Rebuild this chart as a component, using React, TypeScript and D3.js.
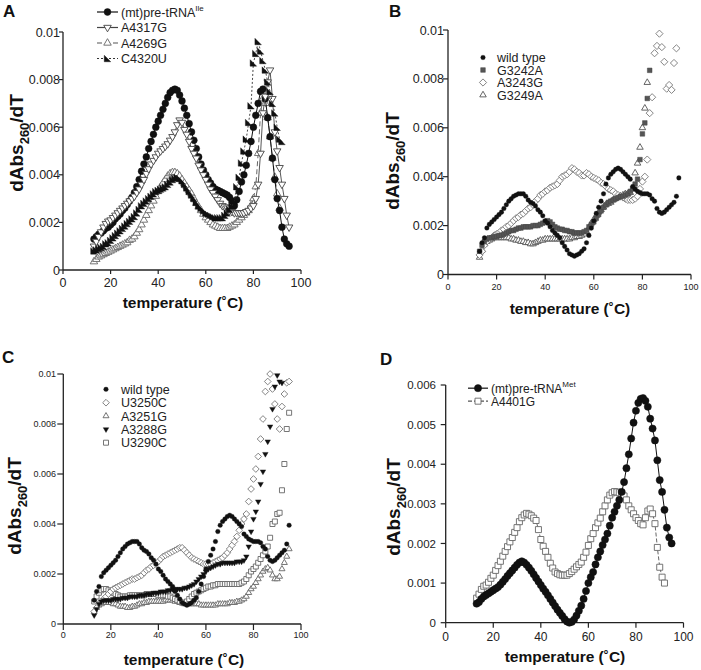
import React from 'react';
import * as d3 from 'd3';

const FONT = "'Liberation Sans', Arial, Helvetica, sans-serif";

// Temperatures (°C) of the measurement grid
const TEMPS = [13,14,15,16,17,18,19,20,21,22,23,24,25,26,27,28,29,30,31,32,33,34,35,36,37,38,39,40,41,42,43,44,45,46,47,48,49,50,51,52,53,54,55,56,57,58,59,60,61,62,63,64,65,66,67,68,69,70,71,72,73,74,75,76,77,78,79,80,81,82,83,84,85,86,87,88,89,90,91,92,93,94,95];

// Panels A-C: dAbs260/dT in units of 1e-4, starting at 13 °C
const A_WILD = [13,14,15,15.5,16.5,17.5,18,19,20,21.5, 22.5,23.5,25,26,27.5,29,30.5,32.5,35,38, 41.5,44.5,47.5,51,54,57,60,62.5,65,67.5, 70,72.5,74.5,75.5,76,75.5,73.5,71,68,65, 61.5,58,54.5,51,47.5,44.5,42,40,38,36.5, 35,34,33.5,33,32.5,32,31.5,30.5,29,27, 29.5,33,37,40,44,49,54,60,65,70, 75,76,72,64,56,47,38,30,25,18, 13,11,10];
const A_A4317G = [10,12,14,16,18,19.5,20.5,21,22,23, 24,25,26,27,28,29,30,31,32.5,34, 36,38,40.5,42.5,44.5,46,47.5,49,50,51, 52,53,54.5,56,58,61,63,62,59,57, 54,51,49,47,44,42,40,38,36,34, 32.5,31,29.5,28,27,26.5,26,25,24.5,24, 24,24,24,24,24.5,25,26,27,30,36, 49,66,73,79,84,72,58,50,43,36, 30,23,18];
const A_A4269G = [3.5,4.5,5.5,6,6.5,7,7.5,8,8.5,9, 9.5,10,10.5,11,11.5,12.5,13,14,15.5,17, 19,21,23,25,27,29,31,33,35,36.5, 38,39.5,40.5,41,41,40.5,39.5,38,36.5,35, 33.5,32,30,28,26.5,25,23.5,22,21,20, 19,18.5,18,17.5,17.5,17.5,17.5,18,18.5,19, 20,21,22,23,24,25,27,30,35,49, 66,72,70,64,56,47,39,32,26];
const A_C4320U = [8,8.5,9,9.5,10,11,11.5,12.5,13.5,14.5, 15.5,16.5,17.5,18.5,19.5,20.5,21.5,22.5,24,25.5, 27,28,29,30,31,32,33,33.5,34,34.5, 35,36,37,38,38.5,39,38.5,37.5,36,34.5, 33,31.5,30,28.5,27,26,25,24,23.5,23, 22.5,22,22,22,22,23,24,25.5,27,29, 35,39,45,50,55,62,69,87,91,96, 92,88,84,79,75,70,66,60,55,54];

const BC_WILD = [9.5,13,15,19,20.5,21.5,22.5,23.5,24.5,25.5, 27,28.5,30,31,32,32.5,33,33,33,32, 30.5,29.5,29,28,26.5,25.5,24,22,21,19.5, 18,17,16,15,13,11.5,10,8.5,8,7.5, 8,8.5,9.5,10.5,13,16,19,22,25,27.5, 30,33,37,39.5,41,42,43,43.5,43,42, 41,40,39,36,35,34,33.5,33,33,33, 32.5,31,30,27,25.5,25,25.5,26.5,27.5,28.5, 29.5,32,39.5];
const B_G3242A = [9.5,12,13.5,14.5,15,15,15.5,15.5,16,16, 16.5,17,17.5,18,18,18.5,19,19,19.5,19.5, 19.5,19.5,20,20,20,20.5,21,21.5,22,21.5, 20.5,19.5,19,18.5,18.5,18,18,17.5,17.5,17, 17,17,17,17.5,18,19.5,20.5,21.5,23,24.5, 26,27.5,28.5,29.5,30,30.5,31,31.5,32,32, 32.5,33,34,35,37,39,47,57.5,62,72, 83.5];
const B_A3243G = [8,9.5,12,13.5,14.5,15,16,16.5,17,18, 18.5,19.5,20,21,22,23,23.5,24.5,25,26, 27,27.5,28.5,30,31,32.5,33,34,34.5,35.5, 36,36.5,37,38.5,40,40.5,41,42,43.5,43, 42,41.5,40.5,40.5,41.5,41,40,39.5,39,38.5, 37.5,37,36,35,34.5,34,33,32.5,32,31.5, 31,30.5,30.5,30.5,31,32,35,38,40,47, 66,72.5,90.5,93.5,98.5,93,87,76,77.5,75.5, 86.5,92.5];
const B_G3249A = [7,10,12.5,13.5,14,14.5,15,15,15,15, 15,15,15,14.5,14.5,14,14,13.5,13.5,13, 13,12.5,12.5,13,13.5,14,14,14.5,14.5,14.5, 14.5,14.5,14.5,14.5,14.5,14.5,14.5,14.5,15,15, 15.5,15.5,16,16.5,17.5,19,21,22.5,24,25.5, 26.5,27.5,28.5,29,29.5,30.5,31,31.5,32,32.5, 33,33,33.5,35,41.5,45.5,52,60,68,78.5];

const C_U3250C = [5,6.5,8,9,10,11,12,13,14,14.5, 15,15.5,16,16.5,17,17.5,18,18,18.5,19, 19.5,20.5,21.5,22,23,23.5,24,25,26,27, 27.5,28,28.5,29,29.5,30,30.5,30.5,29.5,28.5, 27.5,26.5,26,25.5,25,24.5,24,24,24,24, 24.5,25,25.5,26,26.5,27.5,28.5,30,31.5,33, 35,37.5,40,42,44,49,54,58,62,67, 74,82,93,97,100,94,88,82,78,87, 92,96.5,97];
const C_A3251G = [5,6.5,7.5,8,8.5,8.5,8.5,8.5,8,8, 7.5,7,7,7,6.5,6.5,7,7,7.5,8, 8,8.5,8.5,9,9,9,9,9,9,9, 9.5,9.5,9.5,9.5,9,9,8.5,8.5,8,8, 8,8,8,8,8,7.5,7.5,7.5,7.5,7.5, 7.5,7.5,8,8,8,8,8,8.5,8.5,8.5, 9,9,9.5,10,11,12.5,14,15,16.5,18, 19.5,21,22,22.5,21.5,19.5,18,18,19,22, 24.5,27,30];
const C_A3288G = [3.5,6,8,9,9.5,9.5,9.5,9.5,10,10, 10,10,10.5,10.5,10.5,11,11,11,11,11.5, 11.5,11.5,12,12,12,12.5,12.5,12.5,13,13, 13,13.5,13.5,14,14,14,14,14,14.5,14.5, 15,15.5,16,17,18,19,20,21,22,22.5, 23,23.5,24,24,24.5,24.5,24.5,24.5,24.5,24.5, 25,25,25,25.5,27,31,37,42,45,49, 56,61,68,73,79,86,95,99.5,97,96.5];
const C_U3290C = [9,11,12.5,13.5,14,14,13.5,13,12.5,12, 11.5,11,11,11,11,11.5,11.5,11.5,11.5,11.5, 11.5,11.5,12,12,12,12,12,11.5,11.5,11.5, 11.5,11,11,10.5,10,9.5,9,8.5,8.5,9, 10,11,12,12.5,13,13.5,14,14.5,15,15, 15.5,15.5,16,16,16,16,16,16,16,16, 16,16,16.5,17,18,19.5,21,22,23,24.5, 26,27.5,29,31,34.5,40,41,44,44.5,53.5, 64,78,84.5];

// Panel D: dAbs260/dT in units of 1e-5, starting at 13 °C
const D_WILD = [48,52,60,66,70,74,78,82,86,90, 96,103,110,118,125,132,139,146,152,155, 152,146,139,131,122,113,104,95,86,78, 69,60,51,42,33,25,17,9,3,0, 2,8,18,30,43,60,80,100,115,128, 147,165,180,196,210,225,245,265,280,295, 310,330,355,390,425,465,505,535,555,565, 567,560,545,515,490,460,410,360,330,285, 240,215,200];
const D_A4401G = [62,72,84,92,95,102,112,120,132,144, 155,168,180,192,204,215,228,240,255,265, 272,276,274,270,264,258,235,210,193,180, 165,150,138,128,124,121,120,120,120,124, 129,135,141,147,153,165,178,195,212,225, 240,252,264,280,295,310,322,328,331,330, 328,327,320,310,295,285,275,265,258,250, 247,265,282,287,275,250,190,140,115,100];

const X_TICKS = [0, 20, 40, 60, 80, 100];
const Y_TICKS_01 = [0, 0.002, 0.004, 0.006, 0.008, 0.01];
const Y_LABELS_01 = ['0', '0.002', '0.004', '0.006', '0.008', '0.01'];
const Y_TICKS_D = [0, 0.001, 0.002, 0.003, 0.004, 0.005, 0.006];
const Y_LABELS_D = ['0', '0.001', '0.002', '0.003', '0.004', '0.005', '0.006'];

type MarkerType = 'circle' | 'triUp' | 'triDown' | 'square' | 'diamond' | 'flag';

interface Series {
  name: string;
  sup?: string;
  values: number[];
  marker: MarkerType;
  size: number;
  fill: string;
  stroke: string;
  sw: number;
  line?: { stroke: string; dash?: string; width: number };
}

function markerPath(type: MarkerType, s: number): string {
  const h = s * 0.866;
  switch (type) {
    case 'triUp':
      return `M0,${-h * 2 / 3}L${s / 2},${h / 3}L${-s / 2},${h / 3}Z`;
    case 'triDown':
      return `M0,${h * 2 / 3}L${s / 2},${-h / 3}L${-s / 2},${-h / 3}Z`;
    case 'square':
      return `M${-s / 2},${-s / 2}h${s}v${s}h${-s}Z`;
    case 'diamond': {
      const d = s * 0.62;
      return `M0,${-d}L${d},0L0,${d}L${-d},0Z`;
    }
    case 'flag':
      return `M${-s / 2},${-s / 2}L${-s / 2},${s / 2}L${s / 2},${s / 2}Z`;
    default:
      return '';
  }
}

function Marker({ s, x, y }: { s: Series; x: number; y: number }) {
  if (s.marker === 'circle') {
    return <circle cx={x} cy={y} r={s.size} fill={s.fill} stroke={s.stroke} strokeWidth={s.sw} />;
  }
  return (
    <path d={markerPath(s.marker, s.size)} transform={`translate(${x},${y})`} fill={s.fill} stroke={s.stroke} strokeWidth={s.sw} />
  );
}

interface PanelCfg {
  label: string; labelX: number; labelY: number;
  x0: number; x1: number; yb: number; yt: number; yMax: number; unit: number;
  yTicks: number[]; yLabels: string[]; yFont: number; yLabelX: number; tickLen: number;
  xFont: number; xLabelY: number;
  xTitleX: number; xTitleY: number; xTitleFont: number;
  yTitleX: number; yTitleY: number;
  series: Series[]; drawOrder: number[];
  legend: { lines: boolean; lx0: number; lx1: number; mx: number; tx: number; baselines: number[]; font: number };
}

function Panel({ c }: { c: PanelCfg }) {
  const xs = d3.scaleLinear().domain([0, 100]).range([c.x0, c.x1]);
  const ys = d3.scaleLinear().domain([0, c.yMax]).range([c.yb, c.yt]);
  const ink = '#222';
  return (
    <g>
      <text x={c.labelX} y={c.labelY} fontSize={17} fontWeight="bold" fill="#111">{c.label}</text>
      <line x1={c.x0} x2={c.x0} y1={c.yb} y2={ys(c.yMax)} stroke={ink} strokeWidth={1.3} />
      <line x1={c.x0} x2={c.x1} y1={c.yb} y2={c.yb} stroke={ink} strokeWidth={1.3} />
      {c.yTicks.map((t, i) => (
        <g key={'yt' + i}>
          <line x1={c.x0 - c.tickLen} x2={c.x0} y1={ys(t)} y2={ys(t)} stroke={ink} strokeWidth={1.2} />
          <text x={c.yLabelX} y={ys(t) + c.yFont * 0.36} fontSize={c.yFont} textAnchor="end" fill={ink}>{c.yLabels[i]}</text>
        </g>
      ))}
      {X_TICKS.map((t) => (
        <g key={'xt' + t}>
          <line x1={xs(t)} x2={xs(t)} y1={c.yb} y2={c.yb + c.tickLen} stroke={ink} strokeWidth={1.2} />
          <text x={xs(t)} y={c.xLabelY} fontSize={c.xFont} textAnchor="middle" fill={ink}>{t}</text>
        </g>
      ))}
      <text x={c.xTitleX} y={c.xTitleY} fontSize={c.xTitleFont} fontWeight="bold" textAnchor="middle" fill="#111">temperature (˚C)</text>
      <text transform={`translate(${c.yTitleX},${c.yTitleY}) rotate(-90)`} fontSize={19} fontWeight="bold" textAnchor="middle" fill="#111">
        dAbs<tspan fontSize={13} dy={6}>260</tspan><tspan dy={-6}>/dT</tspan>
      </text>
      {c.drawOrder.map((si) => {
        const s = c.series[si];
        const pts = s.values.map((v, i) => ({ t: TEMPS[i], v: v * c.unit }));
        const lineGen = d3.line<{ t: number; v: number }>().x((d) => xs(d.t)).y((d) => ys(d.v));
        return (
          <g key={s.name}>
            {s.line && (
              <path d={lineGen(pts) || ''} fill="none" stroke={s.line.stroke} strokeWidth={s.line.width} strokeDasharray={s.line.dash} />
            )}
            {pts.map((p, i) => (
              <Marker key={i} s={s} x={xs(p.t)} y={ys(p.v)} />
            ))}
          </g>
        );
      })}
      {c.series.map((s, i) => {
        const by = c.legend.baselines[i];
        const my = by - c.legend.font * 0.36;
        return (
          <g key={'lg' + i}>
            {c.legend.lines && s.line && (
              <line x1={c.legend.lx0} x2={c.legend.lx1} y1={my} y2={my} stroke={s.line.stroke} strokeWidth={Math.max(s.line.width, 1.2)} strokeDasharray={s.line.dash} />
            )}
            <Marker s={s} x={c.legend.mx} y={my} />
            <text x={c.legend.tx} y={by} fontSize={c.legend.font} fill={ink}>
              {s.name}
              {s.sup && <tspan fontSize={8} dy={-6}>{s.sup}</tspan>}
            </text>
          </g>
        );
      })}
    </g>
  );
}

const panelA: PanelCfg = {
  label: 'A', labelX: 3, labelY: 17,
  x0: 63, x1: 301, yb: 270, yt: 32, yMax: 0.01, unit: 1e-4,
  yTicks: Y_TICKS_01, yLabels: Y_LABELS_01, yFont: 12.5, yLabelX: 60, tickLen: 4,
  xFont: 12.5, xLabelY: 287,
  xTitleX: 183, xTitleY: 308, xTitleFont: 15.5,
  yTitleX: 23, yTitleY: 143,
  series: [
    { name: '(mt)pre-tRNA', sup: 'Ile', values: A_WILD, marker: 'circle', size: 3.4, fill: '#111', stroke: '#111', sw: 0.5, line: { stroke: '#111', width: 1 } },
    { name: 'A4317G', values: A_A4317G, marker: 'triDown', size: 7.5, fill: '#fff', stroke: '#444', sw: 0.9, line: { stroke: '#444', width: 0.9 } },
    { name: 'A4269G', values: A_A4269G, marker: 'triUp', size: 7.5, fill: '#fff', stroke: '#666', sw: 0.9, line: { stroke: '#555', width: 0.9, dash: '5,3' } },
    { name: 'C4320U', values: A_C4320U, marker: 'flag', size: 6.5, fill: '#111', stroke: '#111', sw: 0.4, line: { stroke: '#333', width: 0.9, dash: '2,2' } },
  ],
  drawOrder: [2, 0, 1, 3],
  legend: { lines: true, lx0: 97, lx1: 118, mx: 107.5, tx: 121, baselines: [16.5, 32, 47.5, 63], font: 12.5 },
};

const panelB: PanelCfg = {
  label: 'B', labelX: 389, labelY: 17,
  x0: 448, x1: 691, yb: 274.5, yt: 30, yMax: 0.01, unit: 1e-4,
  yTicks: Y_TICKS_01, yLabels: Y_LABELS_01, yFont: 12.5, yLabelX: 444, tickLen: 5,
  xFont: 9, xLabelY: 290,
  xTitleX: 570, xTitleY: 314, xTitleFont: 15.5,
  yTitleX: 399, yTitleY: 161,
  series: [
    { name: 'wild type', values: BC_WILD, marker: 'circle', size: 2.3, fill: '#111', stroke: '#111', sw: 0.3 },
    { name: 'G3242A', values: B_G3242A, marker: 'square', size: 4.6, fill: '#555', stroke: '#444', sw: 0.5 },
    { name: 'A3243G', values: B_A3243G, marker: 'diamond', size: 5.8, fill: '#fff', stroke: '#777', sw: 0.9 },
    { name: 'G3249A', values: B_G3249A, marker: 'triUp', size: 6.5, fill: '#fff', stroke: '#555', sw: 0.9 },
  ],
  drawOrder: [3, 2, 1, 0],
  legend: { lines: false, lx0: 0, lx1: 0, mx: 483, tx: 497, baselines: [62, 74.5, 87, 99.5], font: 12.5 },
};

const panelC: PanelCfg = {
  label: 'C', labelX: 2, labelY: 363,
  x0: 63.3, x1: 301, yb: 624, yt: 374, yMax: 0.01, unit: 1e-4,
  yTicks: Y_TICKS_01, yLabels: Y_LABELS_01, yFont: 9, yLabelX: 56, tickLen: 6,
  xFont: 9, xLabelY: 638,
  xTitleX: 184, xTitleY: 665, xTitleFont: 15.5,
  yTitleX: 21, yTitleY: 506,
  series: [
    { name: 'wild type', values: BC_WILD, marker: 'circle', size: 2.3, fill: '#111', stroke: '#111', sw: 0.3 },
    { name: 'U3250C', values: C_U3250C, marker: 'diamond', size: 5.4, fill: '#fff', stroke: '#777', sw: 0.9 },
    { name: 'A3251G', values: C_A3251G, marker: 'triUp', size: 6, fill: '#fff', stroke: '#666', sw: 0.9 },
    { name: 'A3288G', values: C_A3288G, marker: 'triDown', size: 5.5, fill: '#111', stroke: '#111', sw: 0.4 },
    { name: 'U3290C', values: C_U3290C, marker: 'square', size: 5, fill: '#fff', stroke: '#666', sw: 0.9 },
  ],
  drawOrder: [2, 4, 1, 3, 0],
  legend: { lines: false, lx0: 0, lx1: 0, mx: 106, tx: 121, baselines: [393.8, 407.2, 420.5, 433.8, 447.2], font: 12.5 },
};

const panelD: PanelCfg = {
  label: 'D', labelX: 380, labelY: 365,
  x0: 445.7, x1: 683.5, yb: 622.7, yt: 385, yMax: 0.006, unit: 1e-5,
  yTicks: Y_TICKS_D, yLabels: Y_LABELS_D, yFont: 11.5, yLabelX: 436, tickLen: 5,
  xFont: 12, xLabelY: 641,
  xTitleX: 565, xTitleY: 662, xTitleFont: 15.5,
  yTitleX: 400, yTitleY: 507,
  series: [
    { name: '(mt)pre-tRNA', sup: 'Met', values: D_WILD, marker: 'circle', size: 3.6, fill: '#111', stroke: '#111', sw: 0.5, line: { stroke: '#111', width: 1 } },
    { name: 'A4401G', values: D_A4401G, marker: 'square', size: 6, fill: '#fff', stroke: '#666', sw: 0.9, line: { stroke: '#555', width: 0.9, dash: '4,2' } },
  ],
  drawOrder: [1, 0],
  legend: { lines: true, lx0: 468, lx1: 488, mx: 478, tx: 491, baselines: [392.5, 405.5], font: 12 },
};

export default function App() {
  return (
    <svg width={701} height={670} viewBox="0 0 701 670" style={{ position: 'absolute', left: 0, top: 0, background: '#fff' }} fontFamily={FONT}>
      <rect x={0} y={0} width={701} height={670} fill="#fff" />
      <Panel c={panelA} />
      <Panel c={panelB} />
      <Panel c={panelC} />
      <Panel c={panelD} />
    </svg>
  );
}
